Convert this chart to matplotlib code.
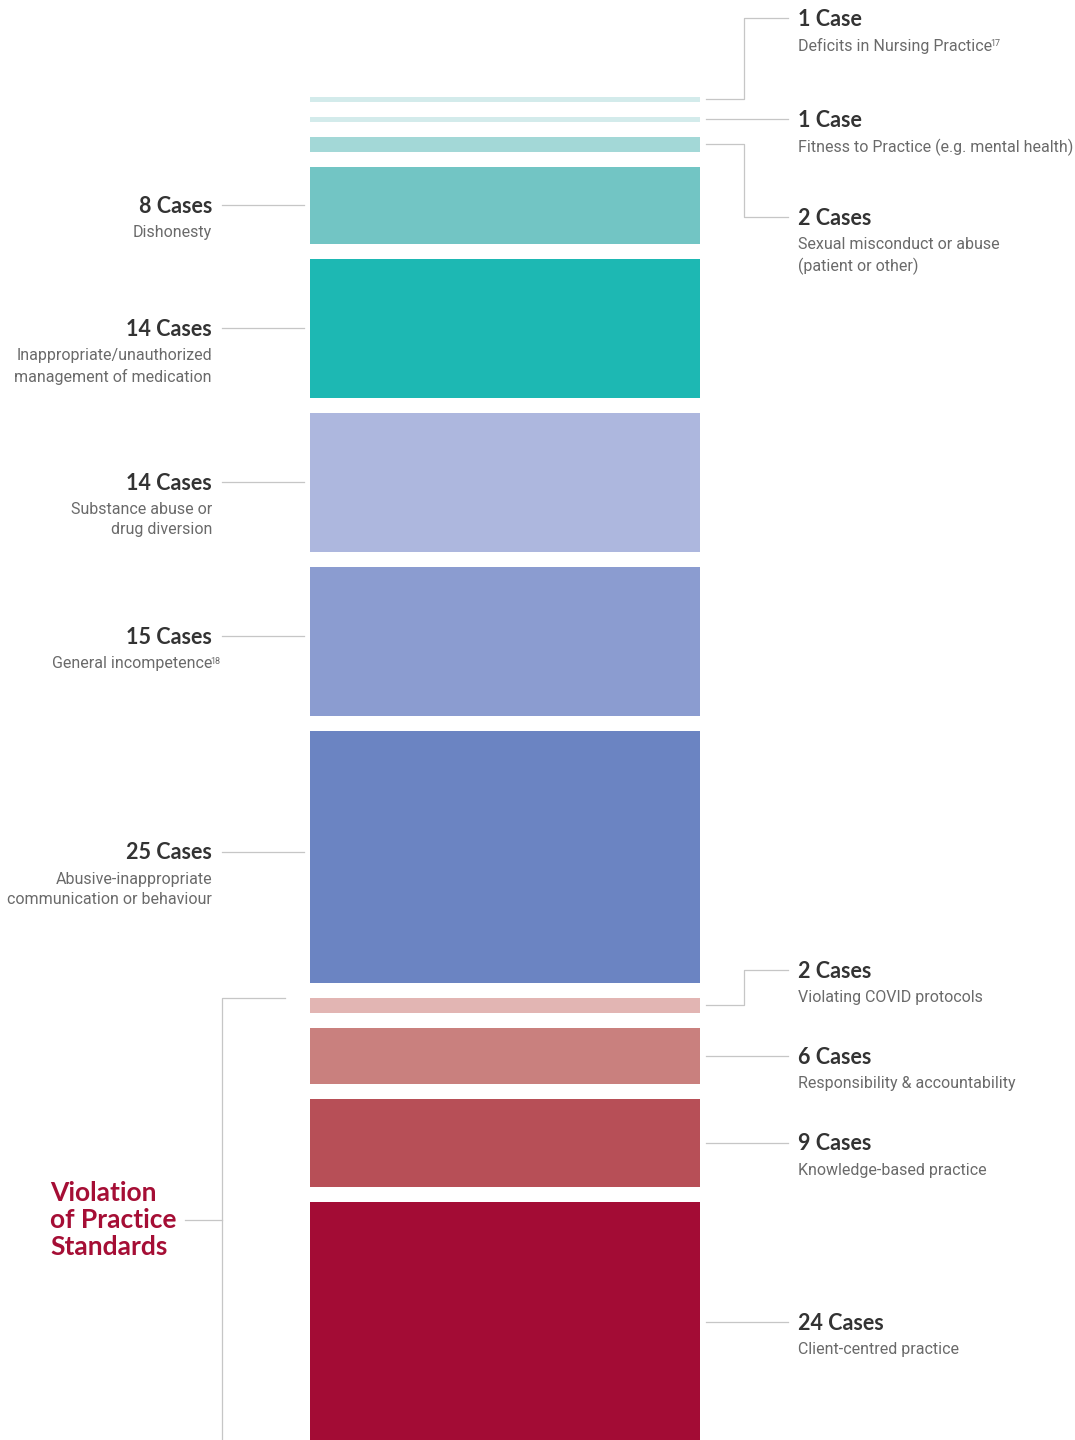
import matplotlib
matplotlib.use("Agg")
import matplotlib.pyplot as plt

# cases per category, top to bottom
categories = [
    "Deficits in Nursing Practice",
    "Fitness to Practice (e.g. mental health)",
    "Sexual misconduct or abuse\n(patient or other)",
    "Dishonesty",
    "Inappropriate/unauthorized\nmanagement of medication",
    "Substance abuse or\ndrug diversion",
    "General incompetence",
    "Abusive-inappropriate\ncommunication or behaviour",
    "Violating COVID protocols",
    "Responsibility & accountability",
    "Knowledge-based practice",
    "Client-centred practice",
]
cases = [1, 1, 2, 8, 14, 14, 15, 25, 2, 6, 9, 24]
footnotes = ["17", "", "", "", "", "", "18", "", "", "", "", ""]
sides = ["R", "R", "R", "L", "L", "L", "L", "L", "R", "R", "R", "R"]
colors = ["#d3ebeb", "#d3ebeb", "#a3d8d7", "#72c5c4", "#1db8b3", "#adb7de",
          "#8b9cd0", "#6b84c2", "#e2b5b3", "#c9807e", "#b74f57", "#a30c35"]
group_label = "Violation\nof Practice\nStandards"
group_start = 8  # first category in the practice-standards group

# layout (pixels)
px_per_case = 10.29
shrink = 5.3
top0 = 96.7
gap = 15.0
bar_x0, bar_x1 = 310, 700
label_shift = [-81, 0, 73, 0, 0, 0, -5, -5, -35, 0, 0, 0]  # elbow offsets

line_c = "#c6c6c6"
title_c = "#333333"
desc_c = "#6a6a6a"
red = "#a50e35"

fig = plt.figure(figsize=(10.75, 14.4), dpi=100)
ax = fig.add_axes([0, 0, 1, 1])
ax.set_xlim(0, 1075)
ax.set_ylim(1440, 0)
ax.axis("off")

tops = []
y = top0
for n in cases:
    tops.append(y)
    y += n * px_per_case - shrink + gap
heights = [n * px_per_case - shrink for n in cases]

ax.barh([t + h / 2 for t, h in zip(tops, heights)], bar_x1 - bar_x0, height=heights,
        left=bar_x0, color=colors, edgecolor="none")

title_font = dict(family="Lato", fontweight="bold", fontsize=15.5, color=title_c)
desc_font = dict(family="Roboto", fontsize=11.5, color=desc_c, linespacing=1.42)

for i, (cat, n) in enumerate(zip(categories, cases)):
    cy = tops[i] + heights[i] / 2
    ty = cy + label_shift[i]
    title = f"{n} Case" if n == 1 else f"{n} Cases"
    if sides[i] == "L":
        ax.plot([222, 304], [ty, ty], color=line_c, lw=0.9)
        ax.text(212, ty + 1, title, ha="right", va="center", **title_font)
        d = ax.text(212, ty + 20, cat, ha="right", va="top", **desc_font)
    else:
        if label_shift[i] == 0:
            ax.plot([706, 788], [cy, cy], color=line_c, lw=0.9)
        else:
            ax.plot([706, 744, 744, 788], [cy, cy, ty, ty], color=line_c, lw=0.9)
        ax.text(798, ty + 1, title, ha="left", va="center", **title_font)
        d = ax.text(798, ty + 20, cat, ha="left", va="top", **desc_font)
    if footnotes[i]:
        ax.annotate(footnotes[i], xy=(1, 1), xycoords=d, xytext=(-1.2, -0.5),
                    textcoords="offset points", ha="left", va="top",
                    family="Roboto", fontsize=6.5, color=desc_c)

# group bracket
g_top = tops[group_start]
ax.plot([285, 222, 222], [g_top, g_top, 1440], color=line_c, lw=0.9)
ax.plot([185, 222], [1220, 1220], color=line_c, lw=0.9)
ax.text(50, 1220, group_label, ha="left", va="center", family="Lato",
        fontweight="bold", fontsize=19, color=red, linespacing=1.17)

fig.savefig("out.png", dpi=100)
